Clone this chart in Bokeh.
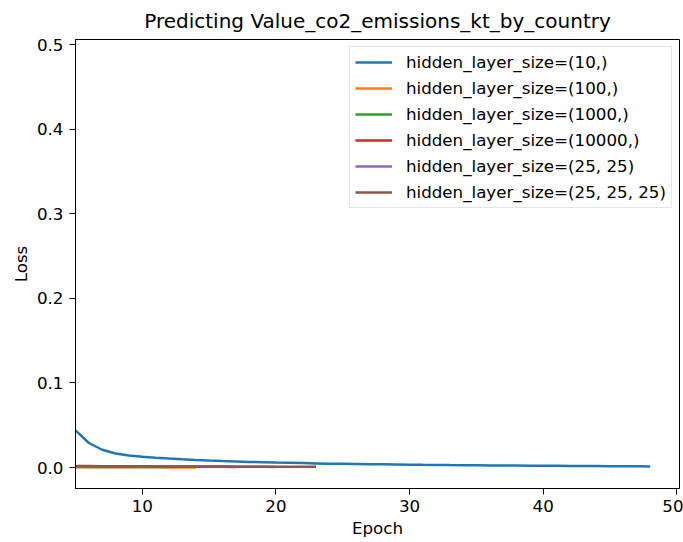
from bokeh.plotting import figure
from bokeh.models import Range1d, FixedTicker, PrintfTickFormatter, Legend, LegendItem
from bokeh.embed import file_html
from bokeh.resources import INLINE

title = "Predicting Value_co2_emissions_kt_by_country"
x_label = "Epoch"
y_label = "Loss"

labels = [
    "hidden_layer_size=(10,)",
    "hidden_layer_size=(100,)",
    "hidden_layer_size=(1000,)",
    "hidden_layer_size=(10000,)",
    "hidden_layer_size=(25, 25)",
    "hidden_layer_size=(25, 25, 25)",
]
colors = ["#1f77b4", "#ff7f0e", "#2ca02c", "#d62728", "#9467bd", "#8c564b"]

epochs_10 = list(range(5, 49))
loss_10 = [0.044, 0.029, 0.021, 0.0165, 0.0143, 0.0128, 0.0116, 0.0106, 0.0097, 0.0089,
           0.0082, 0.0076, 0.0071, 0.0066, 0.0062, 0.0058, 0.0055, 0.0052, 0.0049, 0.0046,
           0.0044, 0.0042, 0.0040, 0.0038, 0.0036, 0.0034, 0.0032, 0.0031, 0.0029, 0.0028,
           0.0027, 0.0025, 0.0024, 0.0023, 0.0022, 0.0021, 0.0020, 0.0019, 0.0018, 0.0017,
           0.0016, 0.0015, 0.0014, 0.0013]

epochs_100 = list(range(5, 15))
loss_100 = [0.0004, 0.0003, 0.0003, 0.0002, 0.0002, 0.0002, 0.0002, 0.0001, 0.0001, 0.0001]

epochs_1000 = list(range(5, 13))
loss_1000 = [0.0008, 0.0007, 0.0007, 0.0006, 0.0006, 0.0005, 0.0005, 0.0005]

epochs_10000 = list(range(5, 18))
loss_10000 = [0.0012, 0.0011, 0.0011, 0.0010, 0.0010, 0.0009, 0.0009, 0.0009, 0.0008,
              0.0008, 0.0008, 0.0008, 0.0007]

epochs_25_25 = list(range(5, 21))
loss_25_25 = [0.0013, 0.0012, 0.0012, 0.0011, 0.0011, 0.0010, 0.0010, 0.0010, 0.0009,
              0.0009, 0.0009, 0.0008, 0.0008, 0.0008, 0.0008, 0.0007]

epochs_25_25_25 = list(range(5, 24))
loss_25_25_25 = [0.0018, 0.0017, 0.0016, 0.0015, 0.0015, 0.0014, 0.0013, 0.0013, 0.0012,
                 0.0012, 0.0011, 0.0011, 0.0010, 0.0010, 0.0010, 0.0009, 0.0009, 0.0009, 0.0008]

x_ticks = [10, 20, 30, 40, 50]
y_ticks = [0.0, 0.1, 0.2, 0.3, 0.4, 0.5]

series = [
    (epochs_10, loss_10),
    (epochs_100, loss_100),
    (epochs_1000, loss_1000),
    (epochs_10000, loss_10000),
    (epochs_25_25, loss_25_25),
    (epochs_25_25_25, loss_25_25_25),
]

FONT = "DejaVu Sans"
FS = "16.7px"
TICK_FS = "16.7px"
TITLE_FS = "20px"

p = figure(width=683, height=542, output_backend="svg", toolbar_location=None,
           x_range=Range1d(5, 50.2), y_range=Range1d(-0.0248, 0.506),
           min_border_left=75, min_border_right=4, min_border_top=38, min_border_bottom=54)

p.title.text = title
p.title.align = "center"
p.title.vertical_align = "bottom"
p.title.text_font = FONT
p.title.text_font_style = "normal"
p.title.text_font_size = TITLE_FS
p.title.text_color = "#000000"
p.title.offset = 0
p.title.standoff = 13

p.outline_line_color = "#000000"
p.outline_line_width = 1
p.xgrid.visible = False
p.ygrid.visible = False
p.background_fill_color = "white"
p.border_fill_color = "white"

for ax in (p.xaxis[0], p.yaxis[0]):
    ax.axis_line_color = "#000000"
    ax.major_tick_in = 0
    ax.major_tick_out = 6
    ax.minor_tick_line_color = None
    ax.major_label_text_font = FONT
    ax.major_label_text_font_size = TICK_FS
    ax.major_label_text_color = "#000000"
    ax.axis_label_text_font = FONT
    ax.axis_label_text_font_size = FS
    ax.axis_label_text_font_style = "normal"
    ax.axis_label_text_color = "#000000"

p.xaxis[0].major_label_standoff = 5
p.xaxis[0].axis_label_standoff = 3
p.yaxis[0].major_label_standoff = 6
p.yaxis[0].axis_label_standoff = 3

p.xaxis[0].ticker = FixedTicker(ticks=x_ticks)
p.yaxis[0].ticker = FixedTicker(ticks=y_ticks)
p.yaxis[0].formatter = PrintfTickFormatter(format="%.1f")
p.xaxis[0].axis_label = x_label
p.yaxis[0].axis_label = y_label

items = []
for (xs, ys), lab, col in zip(series, labels, colors):
    r = p.line(xs, ys, line_color=col, line_width=2.5)
    items.append(LegendItem(label=lab, renderers=[r]))

legend = Legend(items=items, location="top_right")
legend.label_text_font = FONT
legend.label_text_font_size = FS
legend.label_text_color = "#000000"
legend.glyph_width = 37
legend.glyph_height = 16
legend.label_standoff = 14
legend.spacing = 6
legend.padding = 5
legend.margin = 7
legend.border_line_color = "#cccccc"
legend.border_line_width = 1
legend.background_fill_alpha = 0.8
p.add_layout(legend)

open("out.html", "w").write(file_html(p, INLINE))
